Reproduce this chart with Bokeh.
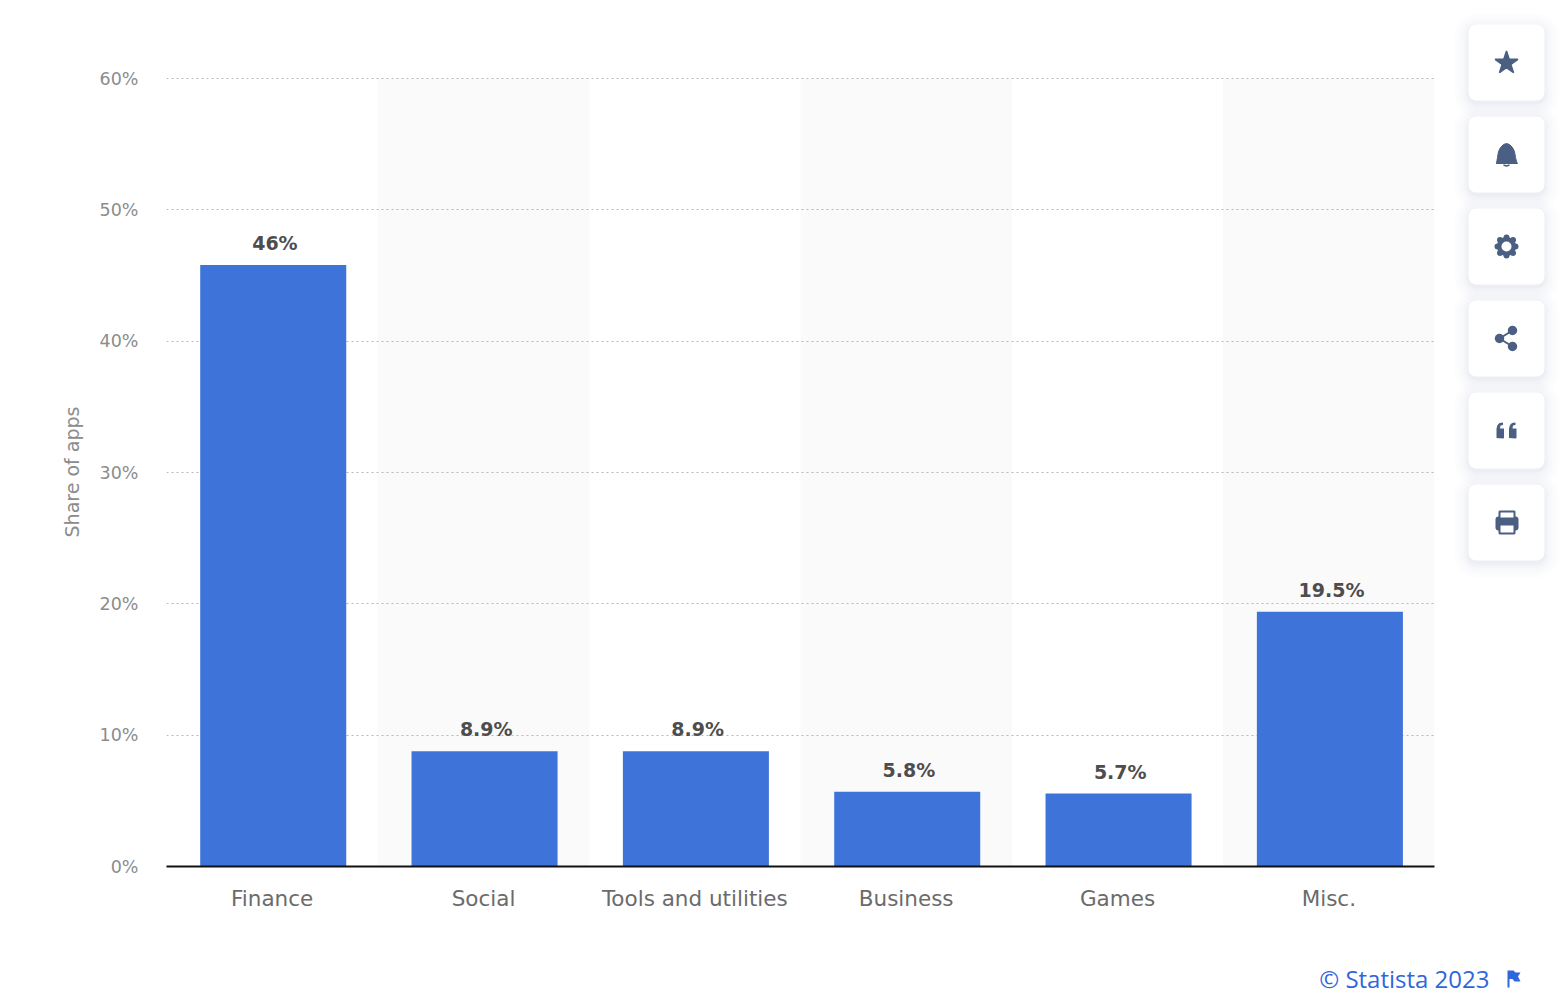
from bokeh.plotting import figure
from bokeh.layouts import column, row
from bokeh.models import Range1d, FactorRange, FixedTicker, ColumnDataSource, Label
from bokeh.transform import dodge
from bokeh.core.properties import value
from bokeh.embed import file_html
from bokeh.resources import INLINE

categories = ["Finance", "Social", "Tools and utilities", "Business", "Games", "Misc."]
bar_heights = [45.8, 8.77, 8.77, 5.7, 5.55, 19.4]
value_labels = ["46%", "8.9%", "8.9%", "5.8%", "5.7%", "19.5%"]
shaded_categories = ["Social", "Business", "Misc."]
y_ticks = [0, 10, 20, 30, 40, 50, 60]
y_tick_labels = ["0%", "10%", "20%", "30%", "40%", "50%", "60%"]
y_title = "Share of apps"
footer_text = "\u00a9 Statista 2023"

FONT = "DejaVu Sans"
BLUE = "#3e73d9"
ICON = "#4a5f82"

# ---- main chart ----
p = figure(x_range=FactorRange(factors=categories, range_padding=0),
           y_range=Range1d(0, 60.08), width=1440, height=940,
           output_backend="svg", toolbar_location=None,
           min_border_left=166, min_border_right=6, min_border_top=77, min_border_bottom=74)
p.outline_line_color = None
p.background_fill_color = "white"
p.border_fill_color = "white"

p.xgrid.visible = False
p.ygrid.ticker = FixedTicker(ticks=y_ticks)
p.ygrid.grid_line_color = "#b8b8b8"
p.ygrid.grid_line_dash = [2, 3]
p.ygrid.grid_line_width = 1

p.vbar(x=shaded_categories, top=[y_ticks[-1]] * len(shaded_categories), bottom=0, width=1.0,
       fill_color="#fafafa", line_color=None, level="image")

src = ColumnDataSource(dict(cat=categories, h=bar_heights, lab=value_labels))
p.vbar(x=dodge("cat", 0.005, range=p.x_range), top="h", bottom=0, width=0.691,
       fill_color=BLUE, line_color=None, source=src)
p.text(x=dodge("cat", 0.013, range=p.x_range), y="h", text="lab", source=src,
       text_align="center", text_baseline="middle", y_offset=-22,
       text_font=value(FONT), text_font_size="19px", text_font_style="bold", text_color="#4d4d4d")

ya = p.yaxis[0]
ya.ticker = FixedTicker(ticks=y_ticks)
ya.major_label_overrides = dict(zip(y_ticks, y_tick_labels))
ya.axis_line_color = None
ya.major_tick_line_color = None
ya.minor_tick_line_color = None
ya.major_tick_out = 0
ya.major_label_standoff = 28
ya.major_label_text_font = FONT
ya.major_label_text_font_size = "17.5px"
ya.major_label_text_color = "#8c8c8c"
ya.axis_label = y_title
ya.axis_label_text_font = FONT
ya.axis_label_text_font_size = "19px"
ya.axis_label_text_font_style = "normal"
ya.axis_label_text_color = "#8c8c8c"
ya.axis_label_standoff = 14

xa = p.xaxis[0]
xa.axis_line_color = "#111111"
xa.axis_line_width = 2
xa.major_tick_line_color = None
xa.minor_tick_line_color = None
xa.major_tick_out = 0
xa.major_label_standoff = 19
xa.major_label_orientation = "horizontal"
xa.major_label_text_font = FONT
xa.major_label_text_font_size = "21.5px"
xa.major_label_text_color = "#6b6b6b"

# ---- side buttons (page-pixel coordinate system) ----
side = figure(x_range=Range1d(1441, 1567), y_range=Range1d(941, 1), width=126, height=940,
              output_backend="svg", toolbar_location=None,
              min_border_left=0, min_border_right=0, min_border_top=0, min_border_bottom=0)
side.axis.visible = False
side.grid.visible = False
side.outline_line_color = None
side.border_fill_color = "white"

button_tops = [25, 117, 209, 301, 393, 485]
for t in button_tops:
    for grow, a in [(14, 0.012), (11, 0.012), (8, 0.015), (5, 0.018), (3, 0.02), (1, 0.03)]:
        side.quad(left=1469 - grow, right=1545 + grow, top=t - grow + 3, bottom=t + 76 + grow + 3,
                  border_radius=8 + grow, fill_color="#56688a", fill_alpha=a, line_color=None)
    side.quad(left=1469, right=1545, top=t, bottom=t + 76, border_radius=8,
              fill_color="white", line_color=None)

cx = 1507
# star
side.scatter([cx], [63.5], marker="star", size=24, fill_color=ICON, line_color=ICON, line_width=1.5)
# bell
side.patch([1497, 1498, 1499, 1501, 1504, 1507, 1510, 1513, 1515, 1516, 1517, 1518, 1496.5],
           [164, 158, 152, 148, 145, 144, 145, 148, 152, 158, 162, 164, 164],
           fill_color=ICON, line_color=ICON)
side.line([1504, 1507, 1510], [165.5, 166.5, 165.5], line_color=ICON, line_width=1.5)
# gear
side.scatter([cx], [247], marker="circle", size=19, fill_color=ICON, line_color=None)
side.scatter([cx, cx, cx - 9, cx + 9, cx - 6.5, cx + 6.5, cx - 6.5, cx + 6.5],
             [238, 256, 247, 247, 240.5, 240.5, 253.5, 253.5],
             marker="circle", size=6, fill_color=ICON, line_color=None)
side.scatter([cx], [247], marker="circle", size=10, fill_color="white", line_color=None)
# share
side.multi_line([[1500, 1513], [1500, 1513]], [[339, 331], [339, 347]], line_color=ICON, line_width=2)
side.scatter([1500, 1513, 1513], [339, 331, 347], marker="circle", size=9.5, fill_color=ICON, line_color=None)
# quote
for ox in (0, 12.5):
    side.patch([1497 + ox, 1497 + ox, 1498 + ox, 1500 + ox, 1503.5 + ox, 1503.5 + ox, 1501 + ox, 1500.5 + ox,
                1504.5 + ox, 1504.5 + ox, 1503.5 + ox],
               [438.5, 429, 425.5, 423.5, 423, 425.5, 426, 429, 429, 438.5, 439],
               fill_color=ICON, line_color=None)
# printer
side.quad(left=1496, right=1519, top=517, bottom=531, border_radius=3, fill_color=ICON, line_color=None)
side.quad(left=1500, right=1515, top=512, bottom=519, fill_color="white", line_color=ICON, line_width=2)
side.quad(left=1500, right=1515, top=525, bottom=534, fill_color="white", line_color=ICON, line_width=2)

# ---- footer ----
foot = figure(x_range=Range1d(1, 1567), y_range=Range1d(1005, 941), width=1566, height=64,
              output_backend="svg", toolbar_location=None,
              min_border_left=0, min_border_right=0, min_border_top=0, min_border_bottom=0)
foot.axis.visible = False
foot.grid.visible = False
foot.outline_line_color = None
foot.add_layout(Label(x=1490, y=978.5, text=footer_text, text_align="right", text_baseline="middle",
                      text_font="Open Sans", text_font_size="24px", text_color="#2f66de"))
foot.patch([1508, 1510, 1510, 1514, 1516, 1521, 1518.5, 1521, 1515, 1513, 1510, 1510, 1508],
           [971, 971, 971, 971, 973, 973, 977, 982, 982, 979.5, 979.5, 988, 988],
           fill_color="#2f66de", line_color=None)

page = column(row(p, column(side), spacing=0), foot, spacing=0)
open("out.html", "w").write(file_html(page, INLINE))
